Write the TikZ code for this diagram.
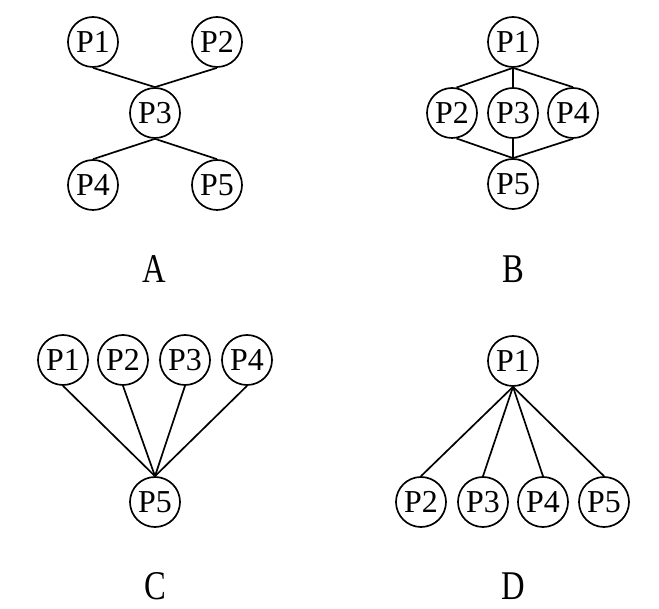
\documentclass[tikz,border=0pt]{standalone}
\usepackage{fontspec}
\setmainfont{Liberation Serif}
\usetikzlibrary{positioning}

\begin{document}
\begin{tikzpicture}[
    x=0.025cm, y=-0.025cm,
    proc/.style={draw, circle, minimum size=1.25cm, inner sep=0pt,
                 line width=1.2pt, font=\fontsize{22.7}{24}\selectfont},
    lbl/.style={font=\fontsize{29}{30}\selectfont, xscale=0.8},
    edge/.style={line width=1.2pt}
  ]
    \useasboundingbox (0,0) rectangle (659,609);

    % A
    \node[proc] (a1) at (93,42) {P1};
    \node[proc] (a2) at (217,42) {P2};
    \node[proc] (a3) at (155,113) {P3};
    \node[proc] (a4) at (93,185) {P4};
    \node[proc] (a5) at (217,185) {P5};
    \node[lbl] (la) at (154,269) {A};

    \draw[edge] (a1.south) -- (a3.north);
    \draw[edge] (a2.south) -- (a3.north);
    \draw[edge] (a3.south) -- (a4.north);
    \draw[edge] (a3.south) -- (a5.north);

    % B
    \node[proc] (b1) at (513,42) {P1};
    \node[proc] (b2) at (452,113) {P2};
    \node[proc] (b3) at (513,113) {P3};
    \node[proc] (b4) at (573,113) {P4};
    \node[proc] (b5) at (513,184) {P5};
    \node[lbl] (lb) at (513,269) {B};

    \draw[edge] (b1.south) -- (b2.80);
    \draw[edge] (b1.south) -- (b3.north);
    \draw[edge] (b1.south) -- (b4.north);
    \draw[edge] (b2.280) -- (b5.north);
    \draw[edge] (b3.south) -- (b5.north);
    \draw[edge] (b4.south) -- (b5.north);

    % C
    \node[proc] (c1) at (63,360) {P1};
    \node[proc] (c2) at (123,360) {P2};
    \node[proc] (c3) at (185,360) {P3};
    \node[proc] (c4) at (247,360) {P4};
    \node[proc] (c5) at (155,502) {P5};
    \node[lbl] (lc) at (155,586) {C};

    \draw[edge] (c1.south) -- (c5.north);
    \draw[edge] (c2.south) -- (c5.north);
    \draw[edge] (c3.south) -- (c5.north);
    \draw[edge] (c4.south) -- (c5.north);

    % D
    \node[proc] (d1) at (513,361) {P1};
    \node[proc] (d2) at (421,502) {P2};
    \node[proc] (d3) at (483,502) {P3};
    \node[proc] (d4) at (543,502) {P4};
    \node[proc] (d5) at (604,502) {P5};
    \node[lbl] (ld) at (513,586) {D};

    \draw[edge] (d1.south) -- (d2.north);
    \draw[edge] (d1.south) -- (d3.north);
    \draw[edge] (d1.south) -- (d4.north);
    \draw[edge] (d1.south) -- (d5.north);
  \end{tikzpicture}
\end{document}
